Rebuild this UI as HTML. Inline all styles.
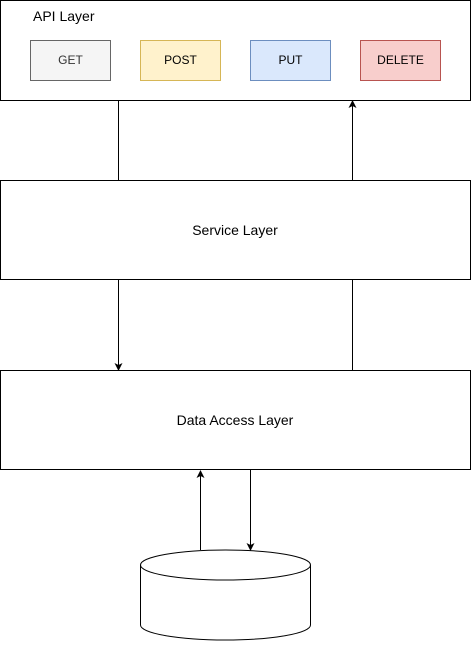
<!DOCTYPE html>
<html><head><style>body{margin:0;background:#fff}</style></head><body>
<svg width="471" height="641" xmlns="http://www.w3.org/2000/svg" font-family="Liberation Sans, Helvetica, sans-serif" font-size="12">
<defs><marker id="a" markerWidth="8" markerHeight="8" refX="7" refY="4" orient="auto" markerUnits="userSpaceOnUse"><path d="M0,0 L8,4 L0,8 L2,4 Z" fill="#000"/></marker></defs>
<rect x="0.5" y="0.5" width="470" height="100" fill="#fff" stroke="#000"/>
<text x="33" y="21" font-size="14">API Layer</text>
<rect x="30.5" y="40.5" width="80" height="40" fill="#f5f5f5" stroke="#666"/>
<text x="70.5" y="64" text-anchor="middle" fill="#333">GET</text>
<rect x="140.5" y="40.5" width="80" height="40" fill="#fff2cc" stroke="#d6b656"/>
<text x="180.5" y="64" text-anchor="middle">POST</text>
<rect x="250.5" y="40.5" width="80" height="40" fill="#dae8fc" stroke="#6c8ebf"/>
<text x="290.5" y="64" text-anchor="middle">PUT</text>
<rect x="360.5" y="40.5" width="80" height="40" fill="#f8cecc" stroke="#b85450"/>
<text x="400.5" y="64" text-anchor="middle">DELETE</text>
<rect x="0.5" y="180.5" width="470" height="99" fill="#fff" stroke="#000"/>
<text x="235" y="235" text-anchor="middle" font-size="14">Service Layer</text>
<rect x="0.5" y="370.5" width="470" height="99" fill="#fff" stroke="#000"/>
<text x="235" y="425" text-anchor="middle" font-size="14">Data Access Layer</text>
<line x1="118.5" y1="101" x2="118.5" y2="180" stroke="#000"/>
<line x1="352.5" y1="180" x2="352.5" y2="101" stroke="#000" marker-end="url(#a)"/>
<line x1="118.5" y1="280" x2="118.5" y2="370" stroke="#000" marker-end="url(#a)"/>
<line x1="352.5" y1="370" x2="352.5" y2="280" stroke="#000"/>
<line x1="200.5" y1="550" x2="200.5" y2="471" stroke="#000" marker-end="url(#a)"/>
<line x1="250.5" y1="470" x2="250.5" y2="550" stroke="#000" marker-end="url(#a)"/>
<path d="M140.5,565 L140.5,625 A85,15 0 0 0 310.5,625 L310.5,565" fill="#fff" stroke="#000"/>
<ellipse cx="225.5" cy="565" rx="85" ry="15" fill="#fff" stroke="#000"/>
</svg>
</body></html>
